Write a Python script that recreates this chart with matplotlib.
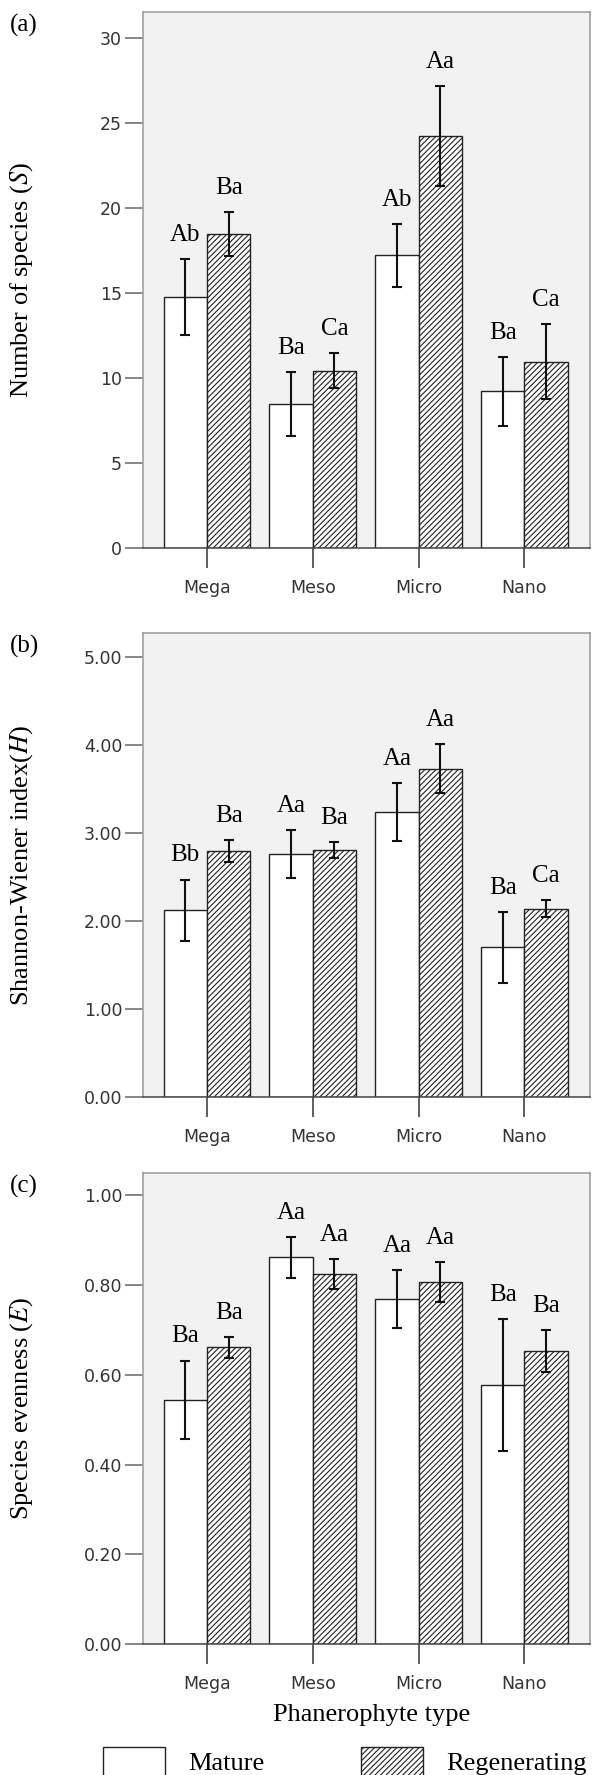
import numpy as np
import matplotlib
matplotlib.use('Agg')
import matplotlib.pyplot as plt
from matplotlib.patches import Patch

plt.rcParams['mathtext.fontset'] = 'stix'
plt.rcParams['hatch.linewidth'] = 0.8

types = ['Mega', 'Meso', 'Micro', 'Nano']

# (a) number of species
S_mature = [14.75, 8.46, 17.2, 9.2]
S_mature_err = [2.25, 1.9, 1.85, 2.05]
S_regen = [18.45, 10.42, 24.2, 10.95]
S_regen_err = [1.3, 1.03, 2.95, 2.2]
S_lab_mature = ['Ab', 'Ba', 'Ab', 'Ba']
S_lab_regen = ['Ba', 'Ca', 'Aa', 'Ca']

# (b) Shannon-Wiener
H_mature = [2.12, 2.76, 3.24, 1.70]
H_mature_err = [0.35, 0.27, 0.33, 0.40]
H_regen = [2.79, 2.81, 3.73, 2.14]
H_regen_err = [0.125, 0.09, 0.28, 0.10]
H_lab_mature = ['Bb', 'Aa', 'Aa', 'Ba']
H_lab_regen = ['Ba', 'Ba', 'Aa', 'Ca']

# (c) evenness
E_mature = [0.545, 0.862, 0.769, 0.577]
E_mature_err = [0.087, 0.045, 0.064, 0.147]
E_regen = [0.661, 0.825, 0.807, 0.653]
E_regen_err = [0.024, 0.033, 0.045, 0.046]
E_lab_mature = ['Ba', 'Aa', 'Aa', 'Ba']
E_lab_regen = ['Ba', 'Aa', 'Aa', 'Ba']

S_ticks = [0, 5, 10, 15, 20, 25, 30]
H_ticks = [0, 1, 2, 3, 4, 5]
E_ticks = [0, 0.2, 0.4, 0.6, 0.8, 1.0]

W, H = 598, 1775
fig = plt.figure(figsize=(W / 100, H / 100), dpi=100)

serif = 'Liberation Serif'
w = 0.41
x = np.arange(len(types))

panels = [
    ('(a)', 12, 548, 31.5, S_mature, S_mature_err, S_regen, S_regen_err,
     S_lab_mature, S_lab_regen, S_ticks, '%d', 'Number of species ($\\mathit{S}$)'),
    ('(b)', 633, 1097, 5.27, H_mature, H_mature_err, H_regen, H_regen_err,
     H_lab_mature, H_lab_regen, H_ticks, '%.2f', 'Shannon-Wiener index($\\mathit{H}$)'),
    ('(c)', 1173, 1644, 1.05, E_mature, E_mature_err, E_regen, E_regen_err,
     E_lab_mature, E_lab_regen, E_ticks, '%.2f', 'Species evenness ($\\mathit{E}$)'),
]

left, right = 143, 590
for (tag, top, bot, ymax, m1, e1, m2, e2, l1, l2, ticks, fmt, ylab) in panels:
    ax = fig.add_axes([left / W, 1 - bot / H, (right - left) / W, (bot - top) / H])
    ax.set_facecolor('#f2f2f2')
    ax.bar(x - w / 2, m1, w, color='white', edgecolor='#222222', linewidth=1.0, zorder=2)
    ax.bar(x + w / 2, m2, w, color='white', edgecolor='#222222', linewidth=1.0,
           hatch='//////', zorder=2)
    ax.errorbar(x - w / 2, m1, yerr=e1, fmt='none', ecolor='#111111',
                elinewidth=1.5, capsize=3.6, capthick=1.5, zorder=3)
    ax.errorbar(x + w / 2, m2, yerr=e2, fmt='none', ecolor='#111111',
                elinewidth=1.5, capsize=3.6, capthick=1.5, zorder=3)
    for i in range(len(types)):
        ax.annotate(l1[i], (x[i] - w / 2, m1[i] + e1[i]), xytext=(0, 13),
                    textcoords='offset points', ha='center', va='baseline',
                    fontsize=18, family=serif)
        ax.annotate(l2[i], (x[i] + w / 2, m2[i] + e2[i]), xytext=(0, 13),
                    textcoords='offset points', ha='center', va='baseline',
                    fontsize=18, family=serif)
    ax.set_xlim(-0.605, 3.62)
    ax.set_ylim(0, ymax)
    ax.set_xticks(x)
    ax.set_xticklabels(types)
    ax.set_yticks(ticks)
    ax.set_yticklabels([fmt % t for t in ticks])
    ax.tick_params(axis='y', length=13, width=1.1, color='#666666', pad=2,
                   labelsize=12.5, labelcolor='#333333')
    ax.tick_params(axis='x', length=14.5, width=1.1, color='#333333', pad=8,
                   labelsize=12.5, labelcolor='#333333')
    for s in ['left', 'top', 'right']:
        ax.spines[s].set_color('#999999')
        ax.spines[s].set_linewidth(1.1)
    ax.spines['bottom'].set_color('#444444')
    ax.spines['bottom'].set_linewidth(1.1)
    ax.set_ylabel(ylab, fontsize=19, family=serif)
    ax.yaxis.set_label_coords((35 - left) / (right - left), 0.5)
    fig.text(10 / W, 1 - (top + 13) / H, tag, fontsize=18, family=serif,
             ha='left', va='center')

fig.text(372 / W, 1 - 1715 / H, 'Phanerophyte type', fontsize=19, family=serif,
         ha='center', va='center')

handles = [Patch(facecolor='white', edgecolor='#222222', linewidth=1.0),
           Patch(facecolor='white', edgecolor='#222222', linewidth=1.0, hatch='//////')]
fig.legend(handles, ['Mature', 'Regenerating'], loc='upper left',
           bbox_to_anchor=(103 / W, 1 - 1747 / H), ncol=2, frameon=False,
           borderpad=0, borderaxespad=0, handlelength=2.35, handleheight=1.3,
           handletextpad=0.87, columnspacing=3.67,
           prop={'family': serif, 'size': 19})

fig.savefig('out.png', dpi=100)
